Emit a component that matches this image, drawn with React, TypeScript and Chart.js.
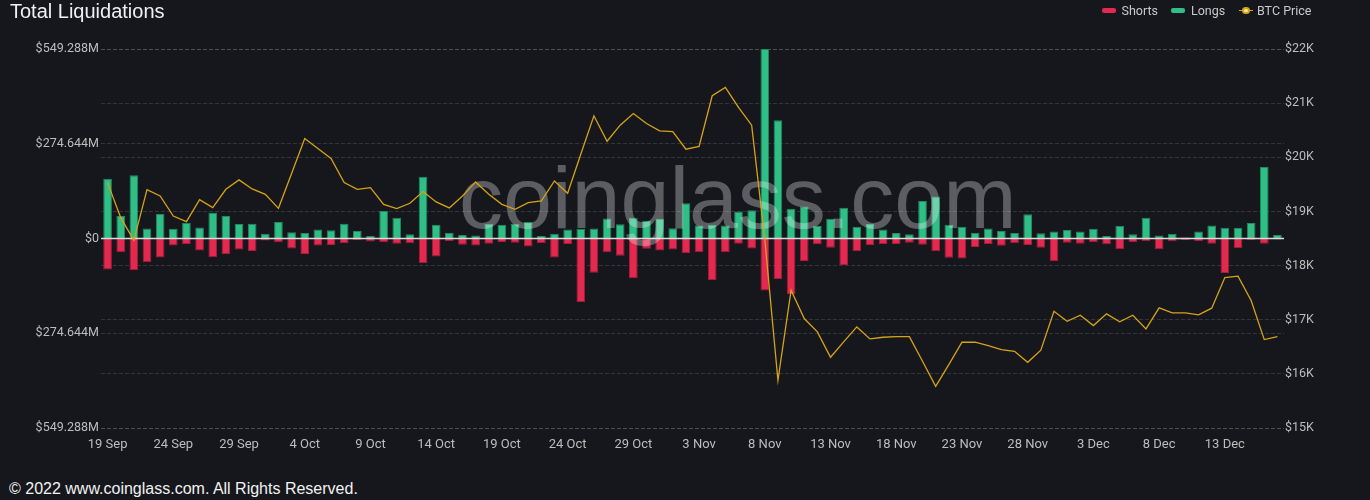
import React, { useEffect, useRef } from 'react';
import { Chart, registerables } from 'chart.js';

Chart.register(...registerables);

const dates: string[] = [
  '19 Sep', '20 Sep', '21 Sep', '22 Sep', '23 Sep', '24 Sep', '25 Sep', '26 Sep', '27 Sep', '28 Sep',
  '29 Sep', '30 Sep', '1 Oct', '2 Oct', '3 Oct', '4 Oct', '5 Oct', '6 Oct', '7 Oct', '8 Oct',
  '9 Oct', '10 Oct', '11 Oct', '12 Oct', '13 Oct', '14 Oct', '15 Oct', '16 Oct', '17 Oct', '18 Oct',
  '19 Oct', '20 Oct', '21 Oct', '22 Oct', '23 Oct', '24 Oct', '25 Oct', '26 Oct', '27 Oct', '28 Oct',
  '29 Oct', '30 Oct', '31 Oct', '1 Nov', '2 Nov', '3 Nov', '4 Nov', '5 Nov', '6 Nov', '7 Nov',
  '8 Nov', '9 Nov', '10 Nov', '11 Nov', '12 Nov', '13 Nov', '14 Nov', '15 Nov', '16 Nov', '17 Nov',
  '18 Nov', '19 Nov', '20 Nov', '21 Nov', '22 Nov', '23 Nov', '24 Nov', '25 Nov', '26 Nov', '27 Nov',
  '28 Nov', '29 Nov', '30 Nov', '1 Dec', '2 Dec', '3 Dec', '4 Dec', '5 Dec', '6 Dec', '7 Dec',
  '8 Dec', '9 Dec', '10 Dec', '11 Dec', '12 Dec', '13 Dec', '14 Dec', '15 Dec', '16 Dec', '17 Dec',
];

// Long liquidations, $M
const longs: number[] = [
  173, 65, 183, 29, 72, 28, 46, 32, 75, 65,
  42, 43, 14, 48, 18, 16, 26, 24, 43, 22,
  7, 80, 60, 12, 179, 40, 17, 10, 9, 43,
  40, 43, 48, 7, 14, 26, 28, 29, 58, 41,
  60, 51, 57, 30, 102, 38, 40, 38, 78, 82,
  549.288, 343, 86, 93, 36, 57, 89, 34, 42, 26,
  16, 12, 109, 122, 40, 34, 17, 29, 22, 16,
  70, 15, 20, 25, 20, 28, 7, 37, 12, 60,
  9, 13, 3, 20, 38, 31, 31, 45, 207, 10,
];

// Short liquidations, $M (drawn below zero)
const shorts: number[] = [
  90, 40, 92, 69, 55, 20, 16, 35, 54, 45,
  32, 36, 6, 11, 29, 45, 20, 19, 13, 4,
  9, 11, 15, 14, 72, 52, 7, 18, 20, 15,
  10, 12, 23, 13, 55, 16, 184, 99, 40, 50,
  115, 30, 35, 32, 43, 40, 121, 40, 15, 29,
  151, 118, 161, 65, 17, 27, 77, 36, 19, 16,
  17, 12, 18, 37, 56, 58, 25, 16, 21, 14,
  19, 27, 65, 12, 15, 11, 17, 31, 11, 8,
  31, 8, 4, 7, 15, 100, 28, 4, 15, 3,
];

const btcPrice: number[] = [
  19532, 18885, 18465, 19403, 19286, 18915, 18811, 19218, 19070, 19409,
  19582, 19415, 19316, 19057, 19700, 20347, 20162, 19977, 19532, 19409,
  19440, 19131, 19051, 19150, 19366, 19175, 19064, 19286, 19545, 19316,
  19131, 19039, 19162, 19193, 19563, 19335, 20057, 20766, 20297, 20593,
  20809, 20624, 20489, 20476, 20149, 20199, 21136, 21291, 20920, 20593,
  18484, 15880, 17546, 17022, 16775, 16306, 16590, 16867, 16645, 16676,
  16688, 16688, 16232, 15769, 16170, 16584, 16584, 16522, 16448, 16417,
  16213, 16436, 17157, 16972, 17083, 16892, 17108, 16960, 17083, 16830,
  17219, 17126, 17126, 17089, 17213, 17780, 17805, 17355, 16633, 16688,
];

const leftTicks: number[] = [-549.288, -274.644, 0, 274.644, 549.288];
const rightTicks: number[] = [15000, 16000, 17000, 18000, 19000, 20000, 21000, 22000];

const BG = '#16171c';
const GREEN = '#2fbe86';
const GREEN_BORDER = '#218a61';
const RED = '#e3294f';
const RED_BORDER = '#a51d3a';
const GOLD = '#d6a317';
const GRID = 'rgba(255,255,255,0.13)';
const TICK = '#bdbdbd';

const overlayPlugin = {
  id: 'overlay',
  beforeDatasetDraw(chart: any, args: any) {
    if (args.index !== 0) return; // before the BTC line (drawn last)
    const { ctx, chartArea, scales } = chart;
    const y0 = scales.y.getPixelForValue(0);
    ctx.save();
    ctx.strokeStyle = '#d9d9d9';
    ctx.lineWidth = 1.5;
    ctx.beginPath();
    ctx.moveTo(chartArea.left, y0);
    ctx.lineTo(chartArea.right, y0);
    ctx.stroke();
    ctx.font = '88px "Liberation Sans", Arial, sans-serif';
    ctx.fillStyle = 'rgba(255,255,255,0.3)';
    ctx.textAlign = 'left';
    ctx.textBaseline = 'alphabetic';
    ctx.fillText('coinglass.com', 459, 228);
    ctx.restore();
  },
};

export default function App() {
  const canvasRef = useRef<HTMLCanvasElement | null>(null);

  useEffect(() => {
    if (!canvasRef.current) return;
    const chart = new Chart(canvasRef.current, {
      type: 'bar',
      data: {
        labels: dates,
        datasets: [
          {
            type: 'line',
            label: 'BTC Price',
            data: btcPrice,
            yAxisID: 'y1',
            borderColor: GOLD,
            backgroundColor: GOLD,
            borderWidth: 1.3,
            pointRadius: 0,
            tension: 0,
            order: 0,
          } as any,
          {
            label: 'Shorts',
            data: shorts.map((v) => -v),
            yAxisID: 'y',
            backgroundColor: RED,
            borderColor: RED_BORDER,
            borderWidth: 1,
            barPercentage: 0.66,
            categoryPercentage: 1,
            order: 1,
          },
          {
            label: 'Longs',
            data: longs,
            yAxisID: 'y',
            backgroundColor: GREEN,
            borderColor: GREEN_BORDER,
            borderWidth: 1,
            barPercentage: 0.66,
            categoryPercentage: 1,
            order: 2,
          },
        ],
      },
      options: {
        responsive: false,
        animation: false,
        devicePixelRatio: 1,
        layout: { padding: { top: 49, left: 0, right: 0, bottom: 0 } },
        plugins: {
          legend: { display: false },
          tooltip: { enabled: false },
        },
        scales: {
          x: {
            stacked: true,
            grid: { display: false },
            border: { display: false },
            ticks: {
              autoSkip: false,
              maxRotation: 0,
              minRotation: 0,
              color: TICK,
              padding: 1,
              font: { family: 'Roboto', size: 13 },
              callback: (_v: any, i: number) => (i % 5 === 0 ? dates[i] : ''),
            },
            afterFit: (s: any) => {
              s.height = 32;
            },
          },
          y: {
            position: 'left',
            stacked: true,
            min: leftTicks[0],
            max: leftTicks[leftTicks.length - 1],
            afterBuildTicks: (s: any) => {
              s.ticks = leftTicks.map((v) => ({ value: v }));
            },
            grid: { color: GRID, drawTicks: false, lineWidth: 1 },
            border: { display: false, dash: [4, 2] },
            ticks: {
              color: TICK,
              padding: 2,
              font: { family: 'Roboto', size: 12.5 },
              callback: (v: any) => (Number(v) === 0 ? '$0' : '$' + Math.abs(Number(v)).toFixed(3) + 'M'),
            },
            afterFit: (s: any) => {
              s.width = 101;
            },
          },
          y1: {
            position: 'right',
            min: rightTicks[0],
            max: rightTicks[rightTicks.length - 1],
            afterBuildTicks: (s: any) => {
              s.ticks = rightTicks.map((v) => ({ value: v }));
            },
            grid: { color: GRID, drawTicks: false, lineWidth: 1 },
            border: { display: false, dash: [4, 2] },
            ticks: {
              color: TICK,
              padding: 1,
              font: { family: 'Roboto', size: 12.5 },
              callback: (v: any) => '$' + Number(v) / 1000 + 'K',
            },
            afterFit: (s: any) => {
              s.width = 86;
            },
          },
        },
      } as any,
      plugins: [overlayPlugin],
    });
    return () => chart.destroy();
  }, []);

  const legendText: React.CSSProperties = {
    position: 'absolute',
    top: 4.5,
    fontFamily: 'Roboto, sans-serif',
    fontSize: 12.5,
    lineHeight: '12.5px',
    color: '#c9c9c9',
    whiteSpace: 'nowrap',
  };

  return (
    <div
      style={{
        position: 'fixed',
        left: 0,
        top: 0,
        width: 1370,
        height: 500,
        background: BG,
        overflow: 'hidden',
      }}
    >
      <canvas
        ref={canvasRef}
        width={1370}
        height={460}
        style={{ position: 'absolute', left: 0, top: 0, display: 'block' }}
      />
      <div
        style={{
          position: 'absolute',
          left: 10,
          top: 1.4,
          fontFamily: '"Liberation Sans", Arial, sans-serif',
          fontSize: 20,
          lineHeight: '20px',
          color: '#f0f0f0',
          whiteSpace: 'nowrap',
        }}
      >
        Total Liquidations
      </div>
      <div style={{ position: 'absolute', left: 1102, top: 8, width: 13.5, height: 5, borderRadius: 2, background: RED }} />
      <div style={{ ...legendText, left: 1121.5 }}>Shorts</div>
      <div style={{ position: 'absolute', left: 1171, top: 8, width: 14, height: 5, borderRadius: 2, background: GREEN }} />
      <div style={{ ...legendText, left: 1191 }}>Longs</div>
      <div style={{ position: 'absolute', left: 1239, top: 9.5, width: 14, height: 1.6, background: GOLD }} />
      <div
        style={{
          position: 'absolute',
          left: 1242.3,
          top: 6.9,
          width: 3.4,
          height: 3.4,
          borderRadius: '50%',
          border: '2px solid ' + GOLD,
          background: '#f6e7a0',
        }}
      />
      <div style={{ ...legendText, left: 1257 }}>BTC Price</div>
      <div
        style={{
          position: 'absolute',
          left: 9,
          top: 480.5,
          fontFamily: '"Liberation Sans", Arial, sans-serif',
          fontSize: 16,
          lineHeight: '16px',
          color: '#f2f2f2',
          whiteSpace: 'nowrap',
        }}
      >
        © 2022 www.coinglass.com. All Rights Reserved.
      </div>
    </div>
  );
}
